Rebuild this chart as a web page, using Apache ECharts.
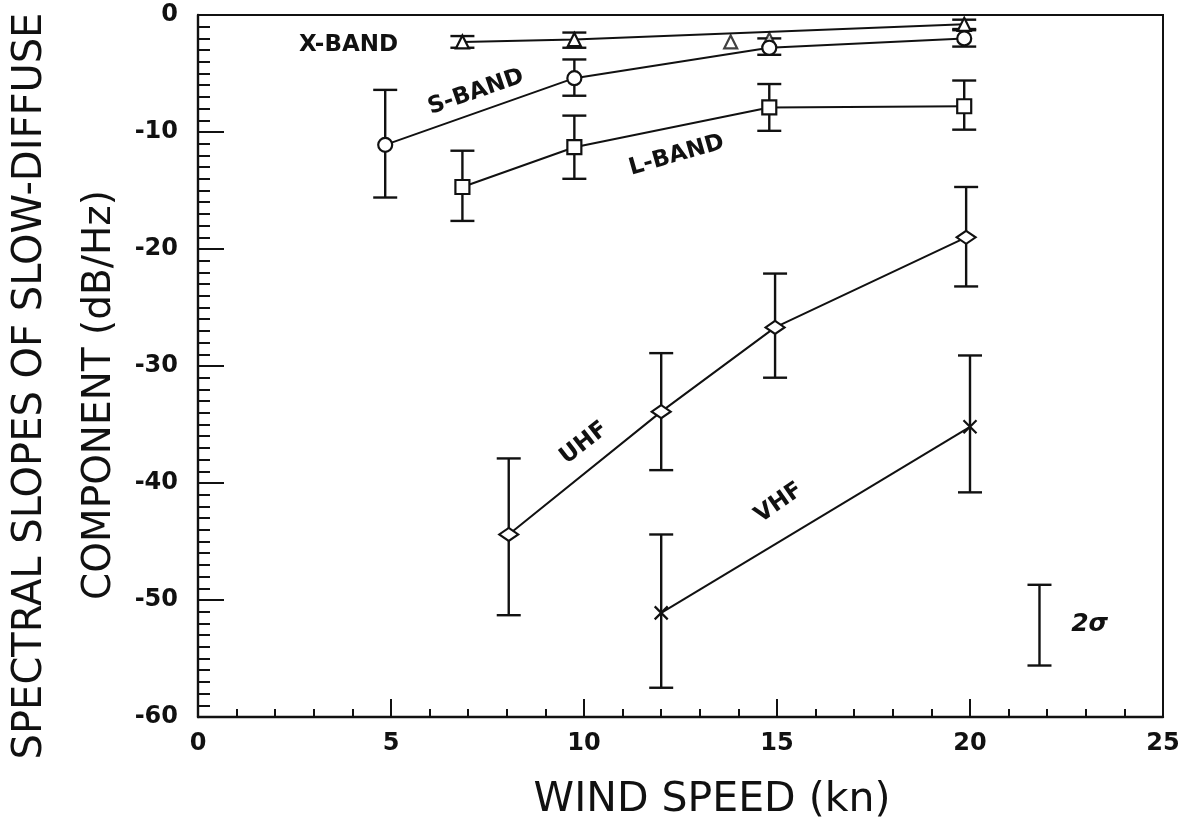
<!DOCTYPE html>
<html>
<head>
<meta charset="utf-8">
<script src="https://cdn.jsdelivr.net/npm/echarts@6/dist/echarts.min.js"></script>
<style>
html,body{margin:0;padding:0;background:#fff;}
#chart{width:1191px;height:824px;}
</style>
</head>
<body>
<div id="chart"></div>
<script>
// ---- data (wind speed in kn, spectral slope in dB/Hz) ----
const xTicks = [0, 5, 10, 15, 20, 25];
const yTicks = [0, -10, -20, -30, -40, -50, -60];

const xBandX  = [6.85, 9.75, 19.85];
const xBandY  = [-2.3, -2.1, -0.8];
const xBandHi = [-1.8, -1.5, -0.4];
const xBandLo = [-2.8, -2.8, -1.3];
const xBandExtraX = [13.8, 14.8];
const xBandExtraY = [-2.3, -2.1];

const sBandX  = [4.85, 9.75, 14.8, 19.85];
const sBandY  = [-11.1, -5.4, -2.8, -2.0];
const sBandHi = [-6.4, -3.8, -2.0, -1.2];
const sBandLo = [-15.6, -6.9, -3.4, -2.7];

const lBandX  = [6.85, 9.75, 14.8, 19.85];
const lBandY  = [-14.7, -11.3, -7.9, -7.8];
const lBandHi = [-11.6, -8.6, -5.9, -5.6];
const lBandLo = [-17.6, -14.0, -9.9, -9.8];

const uhfX  = [8.05, 12.0, 14.95, 19.9];
const uhfY  = [-44.4, -33.9, -26.7, -19.0];
const uhfHi = [-37.9, -28.9, -22.1, -14.7];
const uhfLo = [-51.3, -38.9, -31.0, -23.2];

const vhfX  = [12.0, 20.0];
const vhfY  = [-51.1, -35.2];
const vhfHi = [-44.4, -29.1];
const vhfLo = [-57.5, -40.8];

const sigmaX  = [21.8];
const sigmaHi = [-48.7];
const sigmaLo = [-55.6];

const labelTexts = ['X-BAND', 'S-BAND', 'L-BAND', 'UHF', 'VHF', '2σ'];
const labelX     = [3.9, 7.2, 12.4, 10.0, 15.05, 23.1];
const labelY     = [-2.6, -6.6, -12.0, -36.6, -41.7, -52.1];
const labelRot   = [0, 19, 16, 38, 35, 0];

const xTitle = 'WIND SPEED (kn)';
const yTitle1 = 'SPECTRAL SLOPES OF SLOW-DIFFUSE';
const yTitle2 = 'COMPONENT (dB/Hz)';

// ---- helpers ----
const INK = '#111';
const zip = (xs, ys) => xs.map((x, i) => [x, ys[i]]);
const errData = (xs, hi, lo) => xs.map((x, i) => [x, hi[i], lo[i]]);

function errorSeries(data) {
  return {
    type: 'custom',
    data: data,
    silent: true,
    z: 3,
    renderItem: function (params, api) {
      const x = api.value(0);
      const p1 = api.coord([x, api.value(1)]);
      const p2 = api.coord([x, api.value(2)]);
      const w = 12;
      const st = { stroke: INK, lineWidth: 2.4 };
      return {
        type: 'group',
        children: [
          { type: 'line', shape: { x1: p1[0], y1: p1[1], x2: p2[0], y2: p2[1] }, style: st },
          { type: 'line', shape: { x1: p1[0] - w, y1: p1[1], x2: p1[0] + w, y2: p1[1] }, style: st },
          { type: 'line', shape: { x1: p2[0] - w, y1: p2[1], x2: p2[0] + w, y2: p2[1] }, style: st }
        ]
      };
    }
  };
}

function lineSeries(xs, ys, symbol, size) {
  return {
    type: 'line',
    data: zip(xs, ys),
    symbol: symbol,
    symbolSize: size,
    showAllSymbol: true,
    lineStyle: { color: INK, width: 2 },
    itemStyle: { color: '#fff', borderColor: INK, borderWidth: 2.2 },
    z: 4,
    animation: false
  };
}

const crossPath = 'path://M0,0L10,10M10,0L0,10';

const annotData = labelTexts.map((t, i) => [labelX[i], labelY[i], labelRot[i], t]);

const chart = echarts.init(document.getElementById('chart'), null, { renderer: 'canvas' });

const option = {
  backgroundColor: '#fff',
  animation: false,
  grid: {
    left: 198, right: 28, top: 15, bottom: 107,
    show: true, borderColor: INK, borderWidth: 2, backgroundColor: 'transparent'
  },
  xAxis: {
    type: 'value', min: 0, max: 25, interval: 5,
    axisLine: { show: true, onZero: false, lineStyle: { color: INK, width: 2.4 } },
    axisTick: { show: true, inside: true, length: 18, lineStyle: { color: INK, width: 2 } },
    minorTick: { show: true, splitNumber: 5, length: 8, lineStyle: { color: INK, width: 2 } },
    splitLine: { show: false },
    axisLabel: {
      margin: 15, color: INK, fontFamily: 'DejaVu Sans', fontWeight: 'bold', fontSize: 24,
      formatter: v => (xTicks.indexOf(v) >= 0 ? String(v) : '')
    }
  },
  yAxis: {
    type: 'value', min: -60, max: 0, interval: 10,
    axisLine: { show: true, onZero: false, lineStyle: { color: INK, width: 2.4 } },
    axisTick: { show: true, inside: true, length: 26, lineStyle: { color: INK, width: 2 } },
    minorTick: { show: true, splitNumber: 10, length: 12, lineStyle: { color: INK, width: 2 } },
    splitLine: { show: false },
    axisLabel: {
      margin: 20, color: INK, fontFamily: 'DejaVu Sans', fontWeight: 'bold', fontSize: 24,
      formatter: v => (yTicks.indexOf(v) >= 0 ? String(v) : '')
    }
  },
  series: [
    errorSeries(errData(xBandX, xBandHi, xBandLo)),
    errorSeries(errData(sBandX, sBandHi, sBandLo)),
    errorSeries(errData(lBandX, lBandHi, lBandLo)),
    errorSeries(errData(uhfX, uhfHi, uhfLo)),
    errorSeries(errData(vhfX, vhfHi, vhfLo)),
    errorSeries(errData(sigmaX, sigmaHi, sigmaLo)),
    lineSeries(xBandX, xBandY, 'triangle', 13),
    {
      type: 'scatter', data: zip(xBandExtraX, xBandExtraY), symbol: 'triangle', symbolSize: 13,
      itemStyle: { color: '#fff', borderColor: INK, borderWidth: 2.2 }, z: 4
    },
    lineSeries(sBandX, sBandY, 'circle', 14),
    lineSeries(lBandX, lBandY, 'rect', 14),
    lineSeries(uhfX, uhfY, 'diamond', [19, 13]),
    {
      type: 'line', data: zip(vhfX, vhfY), symbol: crossPath, symbolSize: 13, showAllSymbol: true,
      lineStyle: { color: INK, width: 2 },
      itemStyle: { color: 'none', borderColor: INK, borderWidth: 2.2 }, z: 4
    },
    {
      type: 'custom',
      data: annotData,
      silent: true,
      z: 6,
      renderItem: function (params, api) {
        const p = api.coord([api.value(0), api.value(1)]);
        const rot = api.value(2) * Math.PI / 180;
        const txt = annotData[params.dataIndex][3];
        return {
          type: 'text',
          x: p[0], y: p[1], rotation: rot,
          style: {
            text: txt, fill: INK,
            font: (txt === '2σ' ? 'italic bold 25px "DejaVu Sans"' : 'bold 23px "DejaVu Sans"'),
            align: 'center', verticalAlign: 'middle'
          }
        };
      }
    }
  ],
  graphic: [
    {
      type: 'text', x: 712, y: 800,
      style: { text: xTitle, fill: INK, font: '41px "DejaVu Sans"', align: 'center', verticalAlign: 'middle' }
    },
    {
      type: 'text', x: 31, y: 386, rotation: Math.PI / 2,
      style: { text: yTitle1, fill: INK, font: '40px "DejaVu Sans"', align: 'center', verticalAlign: 'middle' }
    },
    {
      type: 'text', x: 100, y: 395, rotation: Math.PI / 2,
      style: { text: yTitle2, fill: INK, font: '39px "DejaVu Sans"', align: 'center', verticalAlign: 'middle' }
    }
  ]
};
chart.setOption(option);
</script>
</body>
</html>
